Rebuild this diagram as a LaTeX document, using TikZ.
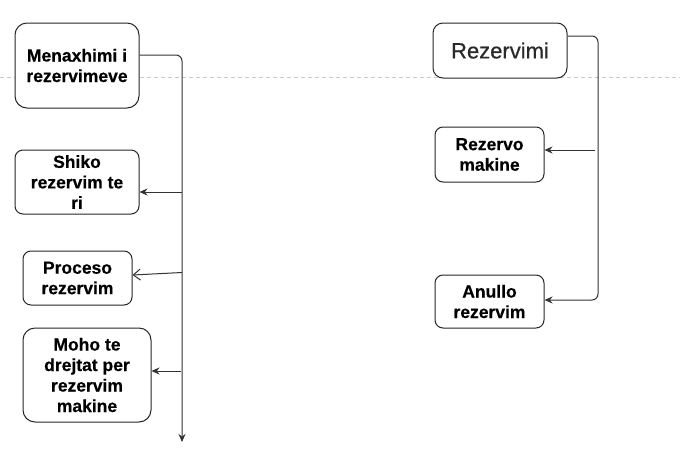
\documentclass[tikz,border=0pt]{standalone}
\usepackage{fontspec}
\setmainfont{Liberation Sans}[BoldFeatures={FakeBold=0.4}]
\newfontfamily\titlefont{Liberation Sans}[FakeBold=0.5]
\usetikzlibrary{arrows.meta}
\definecolor{linegray}{HTML}{333333}
\definecolor{dashgray}{HTML}{C8C8C8}
\definecolor{titlegray}{HTML}{2A2A2A}
\tikzset{
  box/.style={draw=black!85, line width=1pt, fill=white, rounded corners=8pt, align=center,
    font=\fontsize{17.5pt}{20.5pt}\selectfont\bfseries, inner sep=0pt},
  bigbox/.style={box, rounded corners=12pt},
  conn/.style={draw=linegray, line width=1pt},
  arr/.style={conn, -{Stealth[length=8pt,width=7pt]}},
  openarr/.style={conn, -{Straight Barb[length=7pt,width=11pt]}},
}
\begin{document}
\begin{tikzpicture}[x=1pt,y=1pt]
\useasboundingbox (0,0) rectangle (680,-448);
\draw[dashgray, line width=0.8pt, dash pattern=on 4pt off 3pt] (0,-77.5) -- (680,-77.5);

\node[bigbox, minimum width=124pt, minimum height=85pt] (men) at (77,-65.5) {Menaxhimi i\\rezervimeve};
\node[box, minimum width=124pt, minimum height=64pt] (shiko) at (77,-182) {Shiko\\rezervim te\\ri};
\node[box, minimum width=109pt, minimum height=54pt] (proc) at (77.5,-278) {Proceso\\rezervim};
\node[bigbox, minimum width=128pt, minimum height=94pt] (moho) at (87,-375) {Moho te\\drejtat per\\rezervim\\makine};

\node[bigbox, rounded corners=10pt, minimum width=134pt, minimum height=55pt, font=\fontsize{22pt}{26pt}\selectfont\titlefont, text=titlegray] (rez) at (500,-50.5) {Rezervimi};
\node[box, minimum width=109pt, minimum height=55pt] (rezm) at (489.5,-154.5) {Rezervo\\makine};
\node[box, minimum width=109pt, minimum height=53pt] (anul) at (489.5,-301.5) {Anullo\\rezervim};

% left trunk
\coordinate (tend) at (182,-442);
\coordinate (b1) at (182,-192);
\coordinate (b2) at (182,-272.5);
\coordinate (b3) at (181,-371);
\draw[arr, rounded corners=6pt] ([yshift=10.5pt]men.east) -| (tend);
\draw[arr] (b1) -- (b1 -| shiko.east);
\draw[openarr] (b2) -- ([yshift=3pt]proc.east);
\draw[arr] (b3) -- (b3 -| moho.east);

% right trunk
\coordinate (rc) at (598,-300);
\coordinate (r1) at (595,-150);
\draw[arr, rounded corners=6pt] ([yshift=14.5pt]rez.east) -| (rc) -- (rc -| anul.east);
\draw[arr] (r1) -- (r1 -| rezm.east);
\end{tikzpicture}
\end{document}
